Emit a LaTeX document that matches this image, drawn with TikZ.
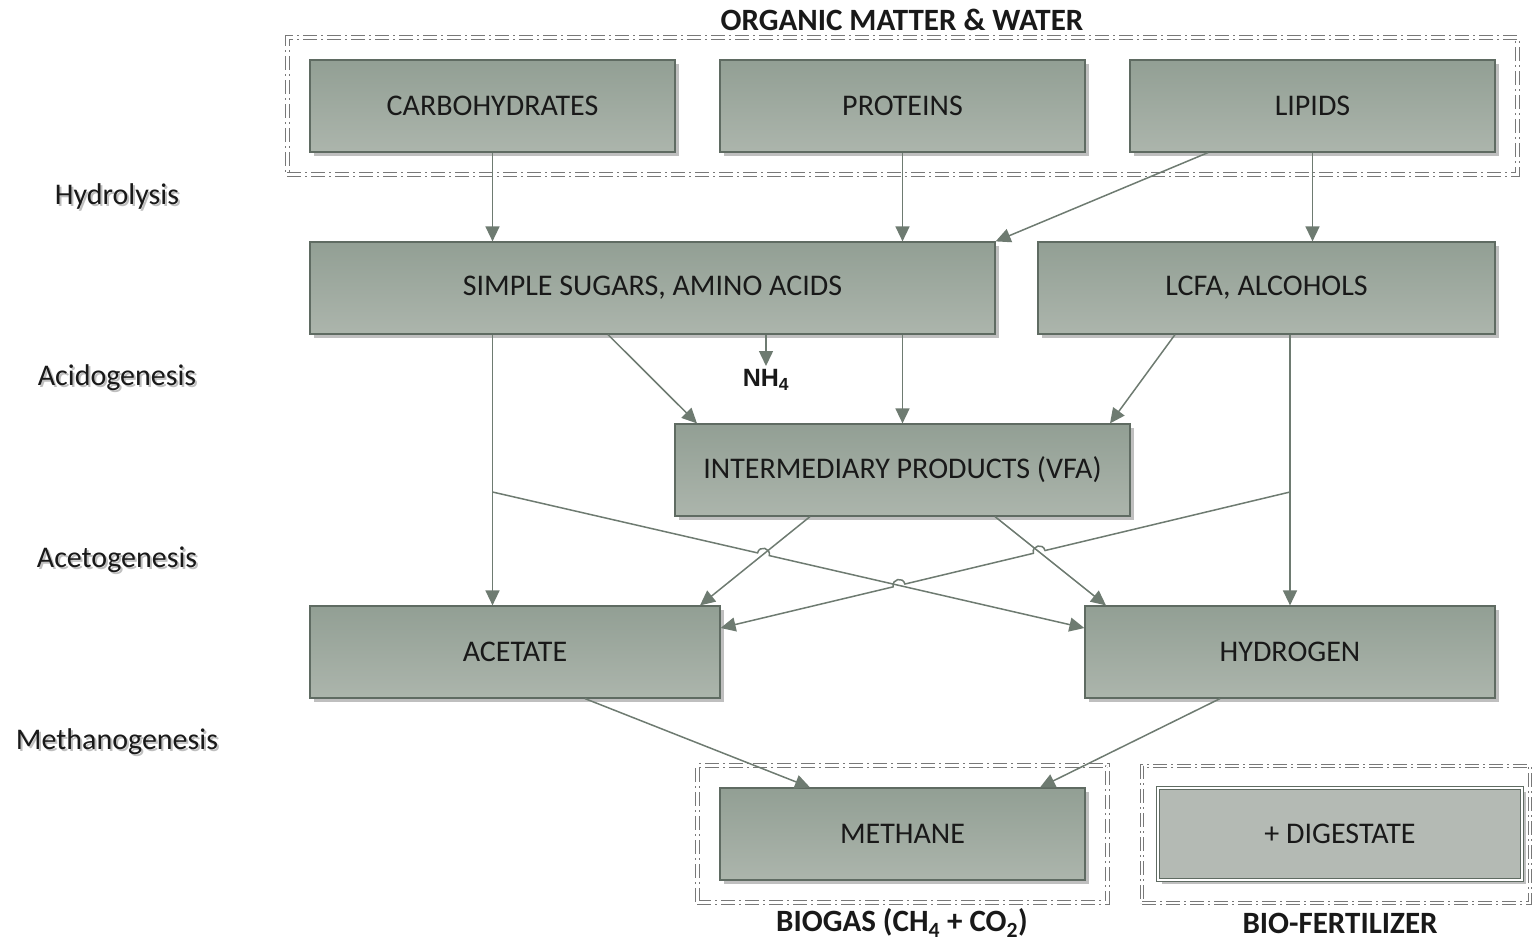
\documentclass[tikz,border=0pt]{standalone}
\usepackage{fontspec}
\setmainfont{Carlito}
\newfontfamily\nhfont{Liberation Sans}
\usetikzlibrary{arrows.meta,positioning,calc,shadows,fit}
\definecolor{boxtop}{RGB}{146,159,148}
\definecolor{boxbot}{RGB}{172,181,172}
\definecolor{boxline}{RGB}{95,107,98}
\definecolor{flow}{RGB}{110,123,113}
\definecolor{ink}{RGB}{25,25,25}
\definecolor{frame}{RGB}{120,120,120}
\definecolor{digest}{RGB}{180,186,180}
\newcommand{\shadowtxt}[1]{\makebox[0pt][l]{\hspace{2pt}\raisebox{-2pt}{\color{black!25}#1}}#1}

\tikzset{
  stagebox/.style={draw=boxline,line width=1.2pt,
    top color=boxtop,bottom color=boxbot,
    minimum height=92pt,text=ink,
    font=\fontsize{30}{34}\selectfont,
    drop shadow={shadow xshift=4pt,shadow yshift=-4pt,
      fill=black,opacity=0.25}},
  digestbox/.style={stagebox,fill=digest,top color=digest,bottom color=digest,
    draw=boxline,double=white,double distance=1.6pt,line width=0.8pt},
  groupframe/.style={draw=frame,line width=1pt,double=white,
    double distance=2.5pt,inner sep=22pt,
    dash pattern=on 14pt off 4pt on 2pt off 4pt},
  headlabel/.style={font=\fontsize{31}{35}\selectfont\bfseries,text=ink},
  phase/.style={font=\fontsize{30}{34}\selectfont,text=ink},
  flowarrow/.style={draw=flow,line width=1.5pt,
    -{Triangle[length=15pt,width=14pt]}}
}

\begin{document}
\begin{tikzpicture}[x=1pt,y=-1pt]
  \useasboundingbox (0,0) rectangle (1533,940);

  % process boxes
  \node[stagebox,minimum width=365pt] (carbo) at (492.5,106) {CARBOHYDRATES};
  \node[stagebox,minimum width=365pt] (prot) at (902.5,106) {PROTEINS};
  \node[stagebox,minimum width=365pt] (lipid) at (1312.5,106) {LIPIDS};
  \node[stagebox,minimum width=685pt] (sugars) at (652.5,288) {SIMPLE SUGARS, AMINO ACIDS};
  \node[stagebox,minimum width=457pt] (lcfa) at (1266.5,288) {LCFA, ALCOHOLS};
  \node[stagebox,minimum width=455pt] (inter) at (902.5,470) {INTERMEDIARY PRODUCTS (VFA)};
  \node[stagebox,minimum width=410pt] (acet) at (515,652) {ACETATE};
  \node[stagebox,minimum width=410pt] (hydro) at (1290,652) {HYDROGEN};
  \node[stagebox,minimum width=365pt] (meth) at (902.5,834) {METHANE};
  \node[digestbox,minimum width=364pt] (dige) at (1340,834) {+ DIGESTATE};
  \node[font=\nhfont\bfseries\fontsize{25}{29}\selectfont,text=ink] (nh4) at (766,380) {NH\textsubscript{4}};

  % groups
  \node[groupframe,fit=(carbo)(lipid)] (organic) {};
  \node[groupframe,fit=(meth)] (biogas) {};
  \node[groupframe,inner sep=0pt,fit={(1142,766) (1530,903)}] (fert) {};
  \node[headlabel] (title) at (902,20) {ORGANIC MATTER \& WATER};
  \node[headlabel] (biolabel) at (902,923) {BIOGAS (CH\textsubscript{4} + CO\textsubscript{2})};
  \node[headlabel] (fertlabel) at (1340,923) {BIO-FERTILIZER};

  % phases
  \foreach \name/\y in {Hydrolysis/197,Acidogenesis/379,Acetogenesis/561,Methanogenesis/743}
    \node[phase] (\name) at (117,\y) {\shadowtxt{\name}};

  % hydrolysis
  \draw[flowarrow] (carbo) -- (carbo |- sugars.north);
  \draw[flowarrow] (prot) -- (prot |- sugars.north);
  \draw[flowarrow] ([xshift=-104.5pt]lipid.south) -- (sugars.north east);
  \draw[flowarrow] (lipid) -- (lipid |- lcfa.north);

  % acidogenesis
  \draw[flowarrow] (carbo |- sugars.south) -- (carbo |- acet.north);
  \draw[flowarrow] ([xshift=-44.5pt]sugars.south) -- ([xshift=-205.5pt]inter.north);
  \draw[flowarrow] ([xshift=113.5pt]sugars.south) -- (nh4);
  \draw[flowarrow] (prot |- sugars.south) -- (inter);
  \draw[flowarrow] ([xshift=-91.5pt]lcfa.south) -- ([xshift=207.5pt]inter.north);
  \draw[flowarrow] (hydro |- lcfa.south) -- (hydro);

  % acetogenesis
  \coordinate (b1) at ($(carbo |- inter.center)+(0,22)$);
  \coordinate (b2) at (hydro |- b1);
  \coordinate (e11) at ([yshift=24pt]hydro.west);
  \coordinate (e12) at ([yshift=24pt]acet.east);
  \coordinate (s13) at ([xshift=-92.5pt]inter.south);
  \coordinate (e13) at ([xshift=185pt]acet.north);
  \coordinate (s14) at ([xshift=92.5pt]inter.south);
  \coordinate (e14) at ([xshift=-184pt]hydro.north);
  \draw[flowarrow] (s13) -- (e13);
  \draw[flowarrow] (s14) -- (e14);
  \coordinate (h1) at (intersection of b1--e11 and s13--e13);
  \coordinate (h2) at (intersection of b2--e12 and s14--e14);
  \coordinate (h3) at (intersection of b1--e11 and b2--e12);
  \draw[flowarrow] (b1) -- ($(h1)!6pt!(b1)$)
    .. controls ($(h1)!6pt!(b1)!8pt!90:(h1)$) and ($(h1)!6pt!(e11)!8pt!-90:(h1)$)
    .. ($(h1)!6pt!(e11)$) -- (e11);
  \draw[flowarrow] (b2) -- ($(h2)!6pt!(b2)$)
    .. controls ($(h2)!6pt!(b2)!8pt!-90:(h2)$) and ($(h2)!6pt!(e12)!8pt!90:(h2)$)
    .. ($(h2)!6pt!(e12)$) -- ($(h3)!6pt!(b2)$)
    .. controls ($(h3)!6pt!(b2)!8pt!-90:(h3)$) and ($(h3)!6pt!(e12)!8pt!90:(h3)$)
    .. ($(h3)!6pt!(e12)$) -- (e12);

  % methanogenesis
  \draw[flowarrow] ([xshift=70pt]acet.south) -- ([xshift=-92.5pt]meth.north);
  \draw[flowarrow] ([xshift=-70pt]hydro.south) -- ([xshift=137.5pt]meth.north);
\end{tikzpicture}
\end{document}
